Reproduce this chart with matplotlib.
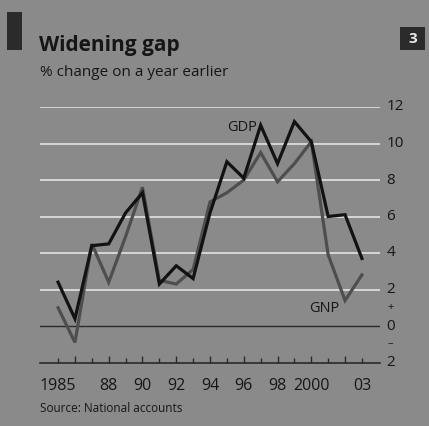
import matplotlib
matplotlib.use("Agg")
import matplotlib.pyplot as plt
from matplotlib.patches import Rectangle

years = list(range(1985, 2004))
gdp = [2.4, 0.4, 4.4, 4.5, 6.2, 7.3, 2.3, 3.3, 2.6, 6.2, 9.0, 8.1, 11.0, 8.9, 11.2, 10.1, 6.0, 6.1, 3.7]
gnp = [1.0, -0.9, 4.5, 2.4, 4.9, 7.6, 2.5, 2.3, 3.1, 6.8, 7.3, 8.0, 9.5, 7.9, 8.9, 10.1, 3.9, 1.4, 2.8]

ytick_vals = [12, 10, 8, 6, 4, 2, 0, -2]
ytick_text = ["12", "10", "8", "6", "4", "2", "0", "2"]
xtick_vals = [1985, 1988, 1990, 1992, 1994, 1996, 1998, 2000, 2003]
xtick_text = ["1985", "88", "90", "92", "94", "96", "98", "2000", "03"]

BG = "#8a8a8a"
INK = "#161616"
plt.rcParams["font.family"] = ["Open Sans", "DejaVu Sans"]

W, H = 429, 426
fig = plt.figure(figsize=(W / 100, H / 100), dpi=100, facecolor=BG)

def fx(px):
    return px / W

def fy(py):
    return 1 - py / H

# plot area: x from 40 to 380 px, y from -2 (362.5 px) to 12 (107 px)
ax = fig.add_axes([fx(40), fy(362.5), fx(380) - fx(40), (362.5 - 107) / H])
ax.set_facecolor(BG)
ax.set_xlim(1983.93, 2004.07)
ax.set_ylim(-2, 12)
for s in ax.spines.values():
    s.set_visible(False)
ax.set_xticks([])
ax.set_yticks([])

for v in ytick_vals:
    if v > 0:
        ax.axhline(v, color="#dcdcdc", lw=1.3, zorder=1)
ax.axhline(0, color="#2a2a2a", lw=1.0, zorder=2)
ax.axhline(-2, color="#2a2a2a", lw=1.2, zorder=2, clip_on=False)

# year ticks rising from the baseline
for yr in years:
    tall = yr % 2 == 0
    ax.plot([yr, yr], [-2, -2 + (0.38 if tall else 0.22)], color="#2a2a2a", lw=1.0,
            solid_capstyle="butt", zorder=2, clip_on=False)

ax.plot(years, gnp, color="#4e4e4e", lw=2.3, zorder=3, solid_joinstyle="miter", clip_on=False)
ax.plot(years, gdp, color="#121212", lw=2.3, zorder=4, solid_joinstyle="miter", clip_on=False)

ax.text(1995.0, 10.9, "GDP", fontsize=10.5, color=INK, ha="left", va="center", zorder=5)
ax.text(1999.9, 0.95, "GNP", fontsize=10.5, color=INK, ha="left", va="center", zorder=5)

for v, t in zip(ytick_vals, ytick_text):
    ax.text(2004.45, v, t, fontsize=11, color=INK, ha="left", va="center", clip_on=False)
ax.text(2004.5, 1.0, "+", fontsize=8, color=INK, ha="left", va="center", clip_on=False)
ax.text(2004.5, -0.95, "–", fontsize=8, color=INK, ha="left", va="center", clip_on=False)

for v, t in zip(xtick_vals, xtick_text):
    ax.text(v, -3.3, t, fontsize=11.5, color=INK, ha="center", va="center", clip_on=False)

# header
fig.patches.append(Rectangle((fx(7), fy(50)), fx(15), (50 - 12) / H, transform=fig.transFigure,
                             facecolor="#2b2b2b", edgecolor="none"))
fig.patches.append(Rectangle((fx(400), fy(50)), fx(25), (50 - 27) / H, transform=fig.transFigure,
                             facecolor="#2b2b2b", edgecolor="none"))
fig.text(fx(412.5), fy(39), "3", fontsize=11, color="#e8e8e8", ha="center", va="center",
         fontweight="bold")
fig.text(fx(39), fy(45), "Widening gap", fontsize=15, color=INK, fontweight="bold",
         ha="left", va="center")
fig.text(fx(40), fy(72), "% change on a year earlier", fontsize=11, color=INK,
         ha="left", va="center")
fig.text(fx(40), fy(408), "Source: National accounts", fontsize=8.5, color=INK,
         ha="left", va="center")

fig.savefig("out.png", dpi=100, facecolor=BG)
